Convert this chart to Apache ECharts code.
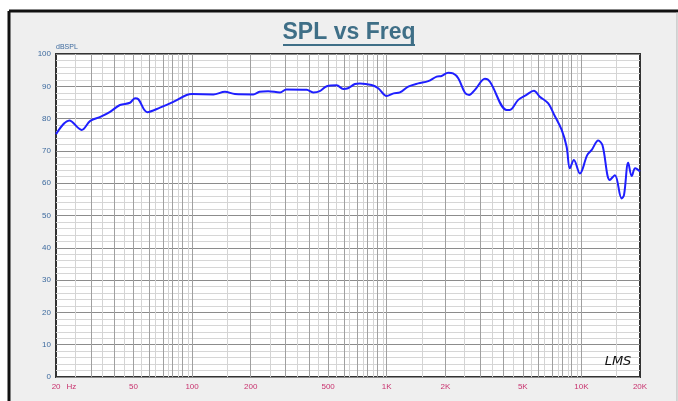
<!DOCTYPE html>
<html>
<head>
<meta charset="utf-8">
<script src="https://cdn.jsdelivr.net/npm/echarts@6/dist/echarts.min.js"></script>
<style>
html,body{margin:0;padding:0;background:#fff;}
#c{width:678px;height:401px;}
</style>
</head>
<body>
<div id="c"></div>
<script>
// Measured response (frequency in Hz, SPL in dB)
const freqHz = [20, 23.4, 27.1, 30, 34, 37.9, 42.6, 48, 50.9, 53, 58.9, 68.4, 80.1, 93.8, 100, 128.6, 147.6, 166, 206, 222, 246, 283, 305, 388, 419, 453, 492, 553, 598, 632, 687, 728, 836, 904, 999, 1085, 1169, 1290, 1452, 1634, 1805, 1913, 2070, 2190, 2330, 2522, 2650, 2838, 3195, 3390, 4129, 4290, 4737, 5200, 5702, 6110, 6757, 7300, 7920, 8396, 8726, 9150, 9825, 10711, 11300, 12200, 12820, 14000, 14860, 16090, 16550, 17400, 18140, 18900, 20000];
const splDb = [75.2, 79.4, 76.5, 79.3, 80.6, 82.1, 84.2, 84.9, 86.3, 86.0, 82.0, 83.4, 85.2, 87.3, 87.6, 87.5, 88.3, 87.6, 87.5, 88.3, 88.5, 88.1, 89.0, 88.9, 88.1, 88.5, 90.0, 90.3, 89.2, 89.4, 90.7, 90.9, 90.4, 89.4, 87.0, 87.8, 88.1, 89.9, 90.9, 91.6, 93.0, 93.2, 94.2, 94.0, 92.5, 88.0, 87.3, 88.9, 92.3, 91.4, 82.7, 82.7, 85.8, 87.3, 88.6, 86.8, 84.7, 80.8, 76.5, 71.3, 64.6, 67.2, 63.0, 68.7, 70.3, 73.2, 71.8, 61.0, 62.5, 55.3, 56.3, 66.3, 62.2, 64.6, 63.6];

// X tick labels
const tickFreqs = [20, 50, 100, 200, 500, 1000, 2000, 5000, 10000, 20000];
const tickLabels = ['20 Hz', '50', '100', '200', '500', '1K', '2K', '5K', '10K', '20K'];

// Vertical grid lines
const gridMajorFreqs = [30, 40, 50, 60, 70, 80, 90, 100, 200, 300, 400, 500, 600, 700, 800, 900, 1000, 2000, 3000, 4000, 5000, 6000, 7000, 8000, 9000, 10000];
const gridMinorFreqs = [25, 35, 45, 55, 65, 75, 85, 95, 150, 250, 350, 450, 550, 650, 750, 850, 950, 1500, 2500, 3500, 4500, 5500, 6500, 7500, 8500, 9500, 15000];

const yMin = 0, yMax = 100, yStep = 10;

const lg = Math.log10;
const points = freqHz.map((f, i) => [lg(f), splDb[i]]);

const gridLines = []
  .concat(gridMinorFreqs.map(f => ({xAxis: lg(f), lineStyle: {color: '#d4d4d4', width: 1, type: 'solid'}})))
  .concat(gridMajorFreqs.map(f => ({xAxis: lg(f), lineStyle: {color: '#a0a0a0', width: 1, type: 'solid'}})));

const FONT = 'Liberation Sans, Arial, sans-serif';
const chart = echarts.init(document.getElementById('c'), null, {renderer: 'canvas'});
chart.setOption({
  animation: false,
  backgroundColor: '#ffffff',
  graphic: [
    {type: 'rect', z: -10, shape: {x: 9, y: 11, width: 668, height: 400}, style: {fill: '#efefef', stroke: null}},
    {type: 'line', z: 10, shape: {x1: 9, y1: 11, x2: 678, y2: 11}, style: {stroke: '#111', lineWidth: 3}},
    {type: 'line', z: 10, shape: {x1: 9, y1: 11, x2: 9, y2: 401}, style: {stroke: '#111', lineWidth: 3}},
    {type: 'line', z: 10, shape: {x1: 677, y1: 12, x2: 677, y2: 401}, style: {stroke: '#b0b0b0', lineWidth: 1}},
    {type: 'text', z: 10, x: 349, y: 32, scaleY: 1.08, style: {text: 'SPL vs Freq', font: 'bold 23px ' + FONT, fill: '#3f6f87', textAlign: 'center', textVerticalAlign: 'middle'}},
    {type: 'line', z: 10, shape: {x1: 283, y1: 45, x2: 415, y2: 45}, style: {stroke: '#3f6f87', lineWidth: 2}},
    {type: 'text', z: 10, x: 618, y: 362, style: {text: 'LMS', font: 'italic 13px DejaVu Sans, sans-serif', fill: '#111', textAlign: 'center', textVerticalAlign: 'middle'}}
  ],
  grid: {left: 56, right: 38, top: 54, bottom: 24, show: true, backgroundColor: '#ffffff', borderColor: '#333', borderWidth: 2},
  xAxis: {
    type: 'value',
    min: lg(20), max: lg(20000),
    axisLine: {show: false}, axisTick: {show: false}, splitLine: {show: false},
    axisLabel: {
      customValues: tickFreqs.map(lg),
      color: '#c8326e', fontSize: 8, fontFamily: FONT, margin: 6,
      formatter: function (v) {
        let best = 0;
        tickFreqs.forEach((t, i) => { if (Math.abs(lg(t) - v) < Math.abs(lg(tickFreqs[best]) - v)) best = i; });
        if (best === 0) return '{n|20}{h|Hz}';
        return tickLabels[best];
      },
      rich: {
        n: {color: '#c8326e', fontSize: 8, fontFamily: FONT, padding: [0, 6, 0, 16]},
        h: {color: '#c8326e', fontSize: 8, fontFamily: FONT}
      }
    }
  },
  yAxis: {
    type: 'value', min: yMin, max: yMax, interval: yStep,
    name: 'dBSPL', nameLocation: 'end', nameGap: 3,
    nameTextStyle: {color: '#3d6a9e', fontSize: 7, fontFamily: FONT, align: 'left'},
    axisLine: {show: false}, axisTick: {show: false},
    axisLabel: {color: '#3d6a9e', fontSize: 8, fontFamily: FONT, margin: 5},
    splitLine: {lineStyle: {color: '#8c8c8c', width: 1}},
    minorTick: {show: false, splitNumber: 5},
    minorSplitLine: {show: true, lineStyle: {color: '#d6d6d6', width: 1}}
  },
  series: [
    {
      type: 'line', z: 1, silent: true, data: points, showSymbol: false,
      lineStyle: {opacity: 0},
      markLine: {silent: true, symbol: ['none', 'none'], label: {show: false}, animation: false, data: gridLines}
    },
    {
      type: 'line', z: 5, data: points, showSymbol: false, smooth: 0.35,
      lineStyle: {color: '#1f1fff', width: 2}
    }
  ]
});
</script>
</body>
</html>
